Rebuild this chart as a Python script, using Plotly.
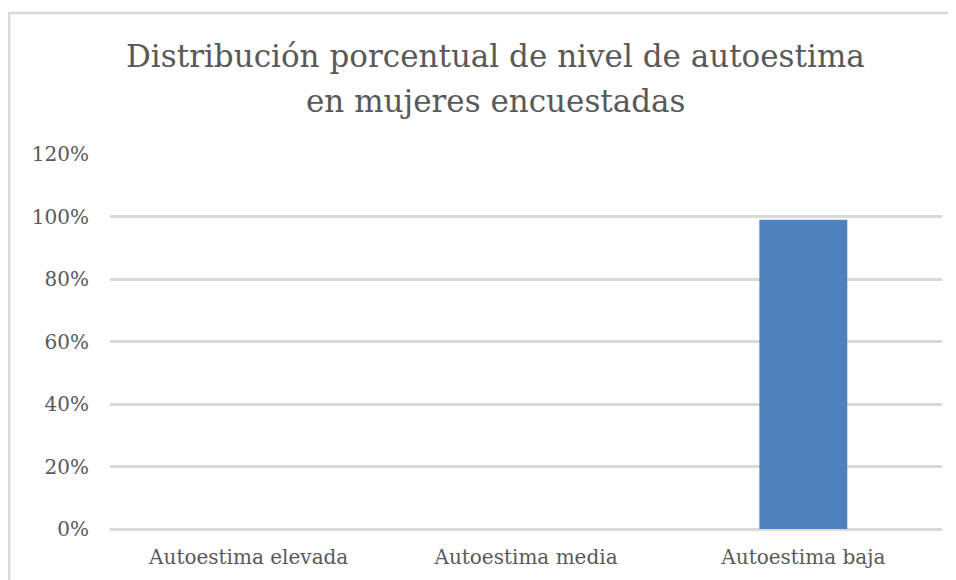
import plotly.graph_objects as go

categories = ["Autoestima elevada", "Autoestima media", "Autoestima baja"]
values = [0.0, 0.0, 0.99]
tick_vals = [0, 0.2, 0.4, 0.6, 0.8, 1.0, 1.2]
tick_text = ["0%", "20%", "40%", "60%", "80%", "100%", "120%"]
title_lines = ["Distribución porcentual de nivel de autoestima", "en mujeres encuestadas"]

W, H = 956, 580
OFF = 8  # page body margin
# plot area in screen pixels
SX0, SX1, SY0, SY1 = 110, 942, 154, 529
L = SX0 - OFF
R = W - (SX1 - OFF)
T = SY0 - OFF
B = H - (SY1 - OFF)
pw, ph = SX1 - SX0, SY1 - SY0

def px(x):
    return (x - SX0) / pw

def py(y):
    return (SY1 - y) / ph

font_family = "DejaVu Serif"
grey = "#595959"
grid = "#d9d9d9"

fig = go.Figure(go.Bar(x=categories, y=values, marker=dict(color="#4f81bd", line=dict(width=0)), width=0.317))

fig.update_layout(
    width=W, height=H,
    margin=dict(l=L, r=R, t=T, b=B, pad=0),
    paper_bgcolor="white", plot_bgcolor="white",
    showlegend=False,
    font=dict(family=font_family, color=grey, size=20),
)
for line_text, cy in zip(title_lines, [56, 101]):
    fig.add_annotation(text=line_text, xref="paper", yref="paper", x=px(495), y=py(cy),
                       xanchor="center", yanchor="middle", showarrow=False,
                       font=dict(family=font_family, size=31, color=grey))

fig.update_xaxes(showgrid=False, showline=False, zeroline=False, ticks="",
                 tickfont=dict(size=20, color=grey), ticklabelstandoff=14)
fig.update_yaxes(range=[0, 1.2], tickvals=tick_vals, ticktext=tick_text,
                 showgrid=True, gridcolor=grid, gridwidth=2.5,
                 zeroline=True, zerolinecolor=grid, zerolinewidth=2.5,
                 showline=False, ticks="", tickfont=dict(size=20, color=grey),
                 ticklabelstandoff=20)

# chart area border (left and top visible)
fig.add_shape(type="line", xref="paper", yref="paper", x0=px(9), x1=px(9), y0=py(12), y1=py(600),
              line=dict(color=grid, width=2.5), layer="below")
fig.add_shape(type="line", xref="paper", yref="paper", x0=px(8), x1=px(970), y0=py(13), y1=py(13),
              line=dict(color=grid, width=2.5), layer="below")

fig.write_html("out.html")
